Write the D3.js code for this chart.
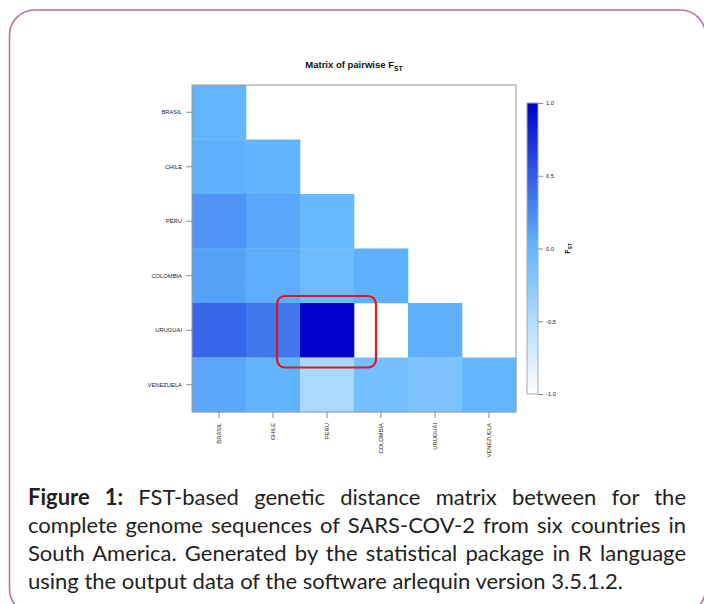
<!DOCTYPE html>
<html>
<head>
<meta charset="utf-8">
<script src="https://cdn.jsdelivr.net/npm/d3@7"></script>
<style>
  html, body { margin: 0; padding: 0; background: #fff; }
  #wrap { position: relative; width: 704px; height: 604px; overflow: hidden; }
  #chart { position: absolute; left: 0; top: 0; }
  #caption {
    position: absolute; left: 28px; top: 483px; width: 658px;
    font-family: Lato, "Open Sans", sans-serif; font-size: 22px;
    line-height: 28px; color: #231f20;
  }
  #caption div { text-align: justify; text-align-last: justify; white-space: nowrap; }
  #caption div.last { text-align-last: left; }
</style>
</head>
<body>
<div id="wrap">
  <svg id="chart" width="704" height="604"></svg>
  <div id="caption"></div>
</div>
<script>
// countries in matrix order
const countries = ['BRASIL', 'CHILE', 'PERU', 'COLOMBIA', 'URUGUAI', 'VENEZUELA'];

// lower triangle of pairwise FST, row by row (null = no value drawn)
const fstBrasil = [0.01];
const fstChile = [0.04, 0.02];
const fstPeru = [0.20, 0.09, -0.02];
const fstColombia = [0.12, 0.06, -0.06, 0.04];
const fstUruguai = [0.44, 0.35, 1.0, null, 0.05];
const fstVenezuela = [0.09, 0.02, -0.47, -0.10, -0.16, 0.01];

const legendTicks = [1.0, 0.5, 0.0, -0.5, -1.0];

const captionLines = [
  '<b>Figure 1:</b> FST-based genetic distance matrix between for the',
  'complete genome sequences of SARS-COV-2 from six countries in',
  'South America. Generated by the statistical package in R language',
  'using the output data of the software arlequin version 3.5.1.2.'
];

const rows = [fstBrasil, fstChile, fstPeru, fstColombia, fstUruguai, fstVenezuela];
const cells = [];
rows.forEach((r, i) => r.forEach((v, j) => {
  if (v !== null) cells.push({ row: countries[i], col: countries[j], value: v });
}));

const svg = d3.select('#chart');

// card frame
svg.append('rect')
  .attr('x', 9.5).attr('y', 10)
  .attr('width', 696).attr('height', 604)
  .attr('rx', 25).attr('ry', 25)
  .attr('fill', 'none')
  .attr('stroke', '#b2739f')
  .attr('stroke-width', 1.6);

const plot = { left: 192, top: 85, right: 516, bottom: 412 };

const x = d3.scaleBand().domain(countries).range([plot.left, plot.right]);
const y = d3.scaleBand().domain(countries).range([plot.top, plot.bottom]);

const color = d3.scaleLinear()
  .domain([-1, 0, 1])
  .range(['#ffffff', '#63b8ff', '#0000cd'])
  .interpolate(d3.interpolateRgb);

const labelFont = 'Liberation Sans, Arial, sans-serif';

// title
const title = svg.append('text')
  .attr('x', (plot.left + plot.right) / 2)
  .attr('y', 68)
  .attr('text-anchor', 'middle')
  .style('font-family', labelFont)
  .style('font-size', '9.5px')
  .style('font-weight', 'bold')
  .attr('fill', '#111');
title.append('tspan').text('Matrix of pairwise F');
title.append('tspan').attr('dy', 2.5).style('font-size', '6.8px').text('ST');

// cells
svg.append('g')
  .selectAll('rect')
  .data(cells)
  .enter()
  .append('rect')
  .attr('x', (d) => x(d.col))
  .attr('y', (d) => y(d.row))
  .attr('width', x.bandwidth() + 0.3)
  .attr('height', y.bandwidth() + 0.3)
  .attr('fill', (d) => color(d.value));

// plot border
svg.append('rect')
  .attr('x', plot.left).attr('y', plot.top)
  .attr('width', plot.right - plot.left).attr('height', plot.bottom - plot.top)
  .attr('fill', 'none')
  .attr('stroke', '#999')
  .attr('stroke-width', 1);

// y axis
const yAxis = svg.append('g')
  .attr('transform', 'translate(' + plot.left + ',0)')
  .call(d3.axisLeft(y).tickSize(6).tickPadding(4));
yAxis.select('.domain').remove();
yAxis.selectAll('line').attr('stroke', '#888');
yAxis.selectAll('text')
  .style('font-family', labelFont)
  .style('font-size', '5.8px')
  .attr('fill', '#222');

// x axis
const xAxis = svg.append('g')
  .attr('transform', 'translate(0,' + plot.bottom + ')')
  .call(d3.axisBottom(x).tickSize(6));
xAxis.select('.domain').remove();
xAxis.selectAll('line').attr('stroke', '#888');
xAxis.selectAll('text')
  .style('font-family', labelFont)
  .style('font-size', '5.8px')
  .attr('fill', '#222')
  .attr('transform', 'rotate(-90)')
  .attr('x', -11)
  .attr('y', 0)
  .attr('dy', '0.35em')
  .style('text-anchor', 'end');

// colour legend
const legend = { left: 527, right: 538, top: 103, bottom: 394 };
const ly = d3.scaleLinear().domain([-1, 1]).range([legend.bottom, legend.top]);

const grad = svg.append('defs').append('linearGradient')
  .attr('id', 'fstGrad')
  .attr('x1', 0).attr('y1', 1).attr('x2', 0).attr('y2', 0);
d3.range(-1, 1.001, 0.1).forEach((v) => {
  grad.append('stop')
    .attr('offset', (v + 1) / 2)
    .attr('stop-color', color(v));
});

svg.append('rect')
  .attr('x', legend.left).attr('y', legend.top)
  .attr('width', legend.right - legend.left)
  .attr('height', legend.bottom - legend.top)
  .attr('fill', 'url(#fstGrad)')
  .attr('stroke', '#aaa')
  .attr('stroke-width', 1);

const lAxis = svg.append('g')
  .attr('transform', 'translate(' + legend.right + ',0)')
  .call(d3.axisRight(ly).tickValues(legendTicks).tickFormat(d3.format('.1f')).tickSize(5).tickPadding(3));
lAxis.select('.domain').remove();
lAxis.selectAll('line').attr('stroke', '#888');
lAxis.selectAll('text')
  .style('font-family', labelFont)
  .style('font-size', '5.8px')
  .attr('fill', '#222')
  .text((d) => d < 0 ? '-' + Math.abs(d).toFixed(1) : d.toFixed(1));

const fLabel = svg.append('text')
  .attr('transform', 'translate(570,' + ly(0) + ') rotate(-90)')
  .attr('text-anchor', 'middle')
  .style('font-family', labelFont)
  .style('font-size', '7px')
  .style('font-weight', 'bold')
  .attr('fill', '#111');
fLabel.append('tspan').text('F');
fLabel.append('tspan').attr('dy', 2).style('font-size', '5px').text('ST');

// highlight box
svg.append('rect')
  .attr('x', x('PERU') - 23)
  .attr('y', y('URUGUAI') - 7)
  .attr('width', x.bandwidth() + 45)
  .attr('height', y.bandwidth() + 17)
  .attr('rx', 8).attr('ry', 8)
  .attr('fill', 'none')
  .attr('stroke', '#e8141c')
  .attr('stroke-width', 2.2);

// caption
d3.select('#caption')
  .selectAll('div')
  .data(captionLines)
  .enter()
  .append('div')
  .attr('class', (d, i) => i === captionLines.length - 1 ? 'last' : null)
  .html((d) => d);
</script>
</body>
</html>
